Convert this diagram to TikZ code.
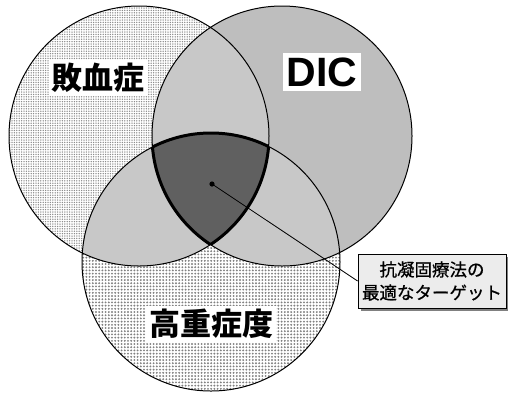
\documentclass[tikz,border=0pt]{standalone}
\usepackage{fontspec}
\setmainfont{Liberation Sans}
\newfontfamily\cjk{Noto Sans CJK JP}
\newfontfamily\cjkmed[FakeBold=0.8]{Noto Sans CJK JP}
\usetikzlibrary{patterns.meta,shadows}
\definecolor{pairgray}{RGB}{200,200,200}
\definecolor{triplegray}{RGB}{96,96,96}
\definecolor{boxgray}{RGB}{236,236,236}
\tikzset{
  outline/.style={draw=black,line width=1pt},
  biglabel/.style={fill=white,inner sep=3pt,font=\cjk\bfseries\fontsize{31}{31}\selectfont},
  callout/.style={draw=black,line width=0.8pt,fill=boxgray,align=center,
    minimum width=148pt,minimum height=54pt,inner sep=2pt,
    font=\cjkmed\fontsize{17.5}{23}\selectfont,
    drop shadow={shadow xshift=2.5pt,shadow yshift=-2.5pt,fill=black!50,opacity=1}},
}
\begin{document}
\begin{tikzpicture}[x=1pt,y=-1pt]
\useasboundingbox (0,0) rectangle (508,392);
\def\CL{(139,136) circle[radius=130pt]}
\def\CR{(282,136) circle[radius=130pt]}
\def\CB{(211,262) circle[radius=129pt]}
% base fills with textures
\fill[white] \CL;
\fill[pattern={Dots[distance=2.4pt,radius=0.75pt]},pattern color=black!45] \CL;
\fill[white] \CB;
\fill[pattern={Dots[distance=3.2pt,radius=1.05pt]},pattern color=black!50] \CB;
\fill[black!15] \CR;
\fill[pattern={Dots[distance=2pt,radius=0.7pt]},pattern color=black!60] \CR;
% pairwise overlaps
\begin{scope}\clip \CL; \fill[pairgray] \CR; \fill[pairgray] \CB;\end{scope}
\begin{scope}\clip \CR; \fill[pairgray] \CB;\end{scope}
% triple overlap
\begin{scope}\clip \CL; \clip \CR; \fill[triplegray] \CB;\end{scope}
% outlines
\draw[outline] \CL;
\draw[outline] \CR;
\draw[outline] \CB;
\begin{scope}\clip \CL; \clip \CR; \draw[line width=3pt] \CB;\end{scope}
\begin{scope}\clip \CL; \clip \CB; \draw[line width=3pt] \CR;\end{scope}
\begin{scope}\clip \CR; \clip \CB; \draw[line width=3pt] \CL;\end{scope}
% labels
\node[biglabel] (sep) at (98,78) {敗血症};
\node[fill=white,inner sep=4pt,font=\bfseries\fontsize{41}{41}\selectfont] (dic) at (322,72) {DIC};
\node[biglabel] (sev) at (211,324) {高重症度};
% callout
\node[callout] (box) at (432,281) {抗凝固療法の\\最適なターゲット};
\coordinate (tgt) at (212,184);
\fill[black] (tgt) circle[radius=2.6pt];
\draw[line width=0.8pt] (tgt) -- (box.west);
\end{tikzpicture}
\end{document}
